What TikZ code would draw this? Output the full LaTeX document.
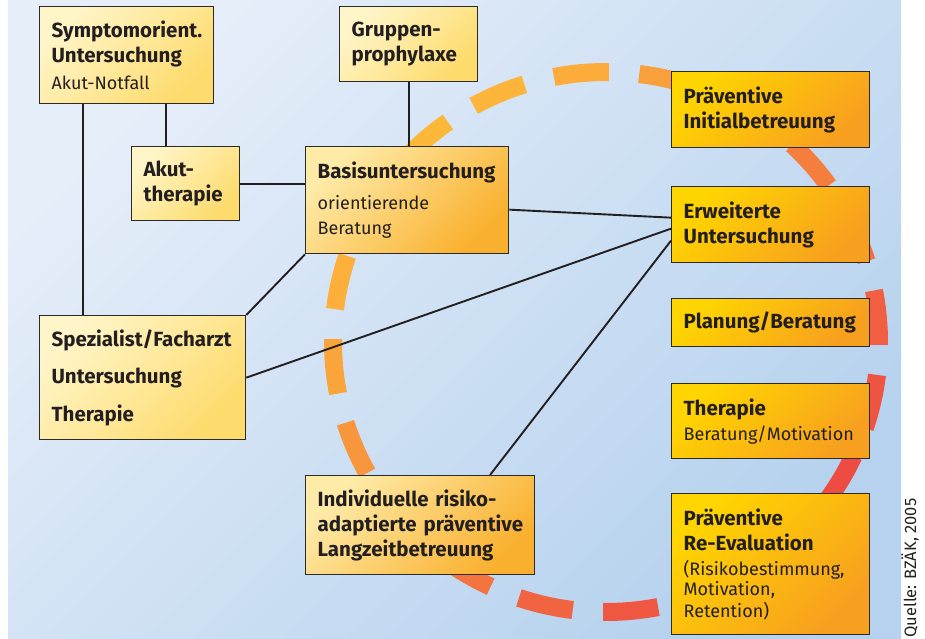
\documentclass[tikz,border=0pt]{standalone}
\usepackage{fontspec}
\setmainfont{Fira Sans}

\definecolor{bglight}{HTML}{E6EEF9}
\definecolor{bgdark}{HTML}{B6D2EE}
\definecolor{paleA}{HTML}{FFF5C8}
\definecolor{paleB}{HTML}{FDDB6C}
\definecolor{midA}{HTML}{FEEBA8}
\definecolor{midB}{HTML}{F9B02E}
\definecolor{deepA}{HTML}{FFD500}
\definecolor{deepB}{HTML}{F79F1F}
\definecolor{ringyellow}{HTML}{FDB93A}
\definecolor{ringred}{HTML}{EE4B43}
\definecolor{boxline}{HTML}{2B2B2B}
\definecolor{ink}{HTML}{231F20}

\newcommand{\rg}{\fontsize{18}{25}\selectfont\mdseries}

\begin{document}
\begin{tikzpicture}[x=1pt, y=-1pt,
    box/.style={anchor=north west, draw=boxline, line width=1.3pt, inner xsep=12pt, inner ysep=0pt,
        align=left, text=ink, font=\fontsize{20.5}{25}\selectfont\bfseries},
    palebox/.style={box, top color=paleA, bottom color=paleB, shading angle=45},
    midbox/.style={box, top color=midA, bottom color=midB, shading angle=45},
    deepbox/.style={box, top color=deepA, bottom color=deepB, shading angle=45},
    link/.style={line width=1.9pt, draw=ink},
    ringdash/.style={line width=18pt}]

    \useasboundingbox (0,0) rectangle (925,638);

    % Background
    \shade[top color=bglight, bottom color=bgdark, shading angle=45] (8,0) rectangle (901,638);

    % Dashed ring
    \foreach \k in {0,...,19} {
        \pgfmathsetmacro\a{79+18*\k}
        \pgfmathsetmacro\b{\a+11.6}
        \pgfmathtruncatemacro\p{50+50*cos(\a+5.8-225)}
        \draw[ringdash, draw=ringyellow!\p!ringred]
            plot[domain=\a:\b, samples=12] ({606+273*cos(\x)}, {342+270*sin(\x)});
    }

    % Left column
    \node[palebox, minimum width=174pt, minimum height=97pt, text width=150pt] (symp) at (39,6)
        {Symptomorient.\\Untersuchung\\[2pt]{\rg Akut-Notfall}};
    \node[palebox, minimum width=108pt, minimum height=74pt, text width=84pt] (akut) at (131,146)
        {Akut-\\therapie};
    \node[palebox, minimum width=206pt, minimum height=124pt, text width=182pt] (spez) at (39,315)
        {Spezialist/Facharzt\\[12.5pt]Untersuchung\\[12.5pt]Therapie};

    % Middle column
    \node[palebox, minimum width=138pt, minimum height=75pt, text width=114pt] (grup) at (339,6)
        {Gruppen-\\prophylaxe};
    \node[midbox, minimum width=203pt, minimum height=107pt, text width=179pt] (basis) at (305,146)
        {Basisuntersuchung\\[6pt]{\rg orientierende}\\{\rg Beratung}};
    \node[midbox, minimum width=229pt, minimum height=99pt, text width=205pt] (indiv) at (305,475)
        {\mbox{Individuelle risiko-}\\\mbox{adaptierte präventive}\\Langzeitbetreuung};

    % Right column
    \node[deepbox, minimum width=198pt, minimum height=76pt, text width=174pt] (init) at (671,71)
        {Präventive\\Initialbetreuung};
    \node[deepbox, minimum width=198pt, minimum height=76pt, text width=174pt] (erw) at (671,186)
        {Erweiterte\\Untersuchung};
    \node[deepbox, minimum width=198pt, minimum height=48pt, text width=174pt] (plan) at (671,298)
        {Planung/Beratung};
    \node[deepbox, minimum width=198pt, minimum height=75pt, text width=174pt] (ther) at (671,383)
        {Therapie\\{\rg Beratung/Motivation}};
    \node[deepbox, minimum width=198pt, minimum height=141pt, text width=174pt] (reev) at (671,493)
        {Präventive\\Re-Evaluation\\{\rg (Risikobestimmung,}\\[-5pt]{\rg Motivation,}\\[-3pt]{\rg Retention)}};

    % Links
    \draw[link] ([xshift=44pt]symp.south west) -- ([xshift=44pt]spez.north west);
    \draw[link] ([xshift=35pt]akut.north west) -- ([xshift=35pt]akut.north west |- symp.south);
    \draw[link] (akut.east) -- (akut.east -| basis.west);
    \draw[link] (grup.south) -- (grup.south |- basis.north);
    \draw[link] ([yshift=-9.5pt]basis.east) -- ([yshift=7pt]erw.west);
    \draw[link] (basis.south west) -- (spez.north east);
    \draw[link] (spez.east) -- ([yshift=-4pt]erw.west);
    \draw[link] ([xshift=185pt]indiv.north west) -- ([yshift=-16pt]erw.west);

    % Source
    \node[rotate=90, anchor=base west, inner sep=0pt, text=ink, font=\fontsize{16.5}{18}\selectfont]
        (quelle) at (916,638) {Quelle: BZÄK, 2005};
\end{tikzpicture}
\end{document}
